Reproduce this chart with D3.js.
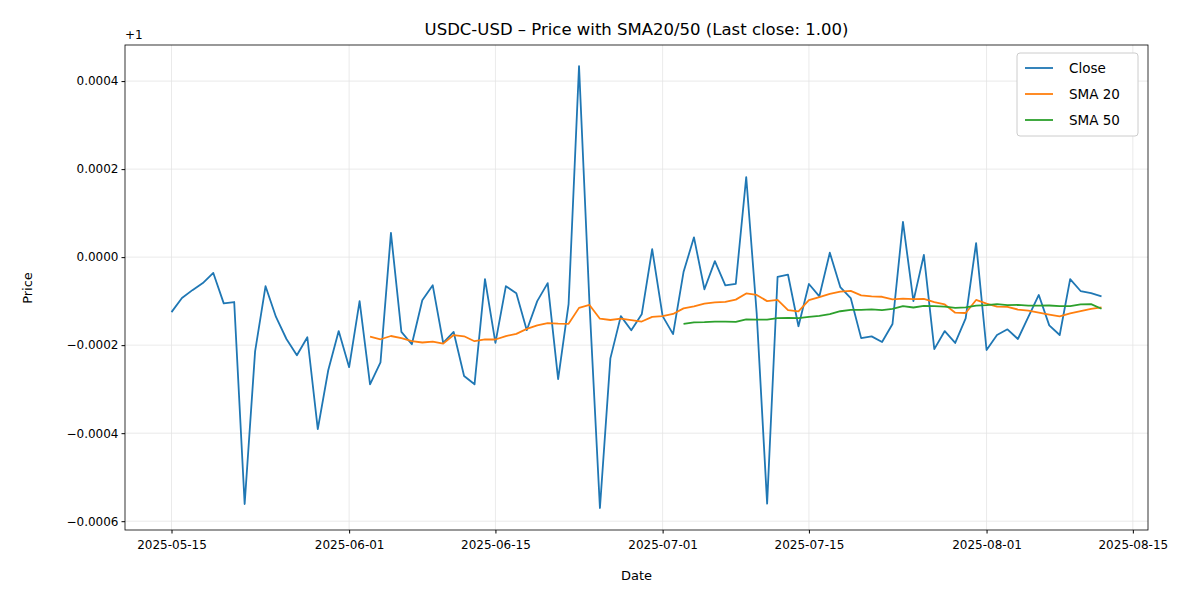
<!DOCTYPE html>
<html><head><meta charset="utf-8">
<script src="https://cdn.jsdelivr.net/npm/d3@7"></script>
<style>body{margin:0;background:#fff;font-family:"DejaVu Sans",sans-serif;}</style>
</head><body><svg id="c" width="1200" height="600"></svg>
<script>
const startDate = "2025-05-15";
// Close minus 1 (chart shows offset "+1")
const closeOffsets = [
-0.000125,-0.000093,-0.000075,-0.000059,-0.000036,-0.000105,-0.000102,-0.000561,-0.000214,-0.000066,
-0.000136,-0.000186,-0.000223,-0.000182,-0.000391,-0.000257,-0.000168,-0.000250,-0.000100,-0.000289,
-0.000239,0.000055,-0.000170,-0.000198,-0.000098,-0.000064,-0.000195,-0.000170,-0.000270,-0.000289,
-0.000050,-0.000195,-0.000066,-0.000082,-0.000166,-0.000100,-0.000059,-0.000277,-0.000107,0.000434,
-0.000105,-0.000570,-0.000230,-0.000134,-0.000166,-0.000130,0.000018,-0.000134,-0.000175,-0.000034,
0.000045,-0.000073,-0.000009,-0.000064,-0.000061,0.000182,-0.000127,-0.000560,-0.000045,-0.000040,
-0.000157,-0.000061,-0.000089,0.000010,-0.000068,-0.000093,-0.000184,-0.000180,-0.000193,-0.000152,
0.000080,-0.000100,0.000005,-0.000209,-0.000168,-0.000195,-0.000139,0.000032,-0.000211,-0.000177,
-0.000164,-0.000186,-0.000136,-0.000086,-0.000155,-0.000177,-0.000050,-0.000077,-0.000082,-0.000089];
const yTicks = [-0.0006,-0.0004,-0.0002,0,0.0002,0.0004];
const xTickLabels = ["2025-05-15","2025-06-01","2025-06-15","2025-07-01","2025-07-15","2025-08-01","2025-08-15"];

const parse = d3.utcParse("%Y-%m-%d");
const t0 = parse(startDate);
const data = closeOffsets.map((v,i)=>({d:d3.utcDay.offset(t0,i), v}));
function sma(n){return data.map((p,i)=> i<n-1?null:{d:p.d, v:d3.mean(data.slice(i-n+1,i+1),q=>q.v)}).filter(Boolean);}
const sma20 = sma(20), sma50 = sma(50);

const svg = d3.select("#c");
const L=125,R=1148,T=45,B=530;
const span = data[data.length-1].d - data[0].d;
const x = d3.scaleUtc().domain([new Date(+data[0].d - span*0.05), new Date(+data[data.length-1].d + span*0.05)]).range([L,R]);
const y = d3.scaleLinear().domain([-0.000620,0.000482]).range([B,T]);

const g = svg.append("g");
// grid
xTickLabels.forEach(s=>{const xx=x(parse(s)); g.append("line").attr("x1",xx).attr("x2",xx).attr("y1",T).attr("y2",B).attr("stroke","#e5e5e5").attr("stroke-width",0.8);});
yTicks.forEach(v=>{const yy=y(v); g.append("line").attr("x1",L).attr("x2",R).attr("y1",yy).attr("y2",yy).attr("stroke","#e5e5e5").attr("stroke-width",0.8);});

const fmt = v => { const s = Math.abs(v).toFixed(4); return (v< -1e-12 ? "\u2212" : "") + s; };
svg.append("g").attr("transform",`translate(0,${B})`)
  .call(d3.axisBottom(x).tickValues(xTickLabels.map(parse)).tickFormat(d3.utcFormat("%Y-%m-%d")).tickSize(3.5).tickSizeOuter(0))
  .call(a=>{a.selectAll("text").attr("font-size",12).attr("font-family","DejaVu Sans").attr("fill","#000").attr("dy","1.05em");a.select(".domain").remove();});
svg.append("g").attr("transform",`translate(${L},0)`)
  .call(d3.axisLeft(y).tickValues(yTicks).tickFormat(fmt).tickSize(3.5).tickSizeOuter(0))
  .call(a=>{a.selectAll("text").attr("font-size",12).attr("font-family","DejaVu Sans").attr("fill","#000");a.select(".domain").remove();});
svg.append("rect").attr("x",L).attr("y",T).attr("width",R-L).attr("height",B-T).attr("fill","none").attr("stroke","#000").attr("stroke-width",0.8);

const line = d3.line().x(p=>x(p.d)).y(p=>y(p.v));
[[data,"#1f77b4"],[sma20,"#ff7f0e"],[sma50,"#2ca02c"]].forEach(([s,c])=>
  svg.append("path").datum(s).attr("d",line).attr("fill","none").attr("stroke",c).attr("stroke-width",1.8).attr("stroke-linejoin","round"));

svg.append("text").attr("x",L).attr("y",T-6).attr("font-size",12).text("+1");
svg.append("text").attr("x",(L+R)/2).attr("y",35).attr("text-anchor","middle").attr("font-size",16.5).text("USDC-USD \u2013 Price with SMA20/50 (Last close: 1.00)");
svg.append("text").attr("x",(L+R)/2).attr("y",580).attr("text-anchor","middle").attr("font-size",13).text("Date");
svg.append("text").attr("transform","translate(32,288) rotate(-90)").attr("text-anchor","middle").attr("font-size",13).text("Price");

const lg = svg.append("g").attr("transform","translate(1017,53)");
lg.append("rect").attr("width",121).attr("height",83).attr("rx",3).attr("fill","#fff").attr("stroke","#ccc");
[["Close","#1f77b4"],["SMA 20","#ff7f0e"],["SMA 50","#2ca02c"]].forEach(([n,c],i)=>{
  const yy=15+i*26;
  lg.append("line").attr("x1",8).attr("x2",36).attr("y1",yy).attr("y2",yy).attr("stroke",c).attr("stroke-width",1.8);
  lg.append("text").attr("x",52).attr("y",yy+5).attr("font-size",13.5).text(n);
});
</script></body></html>
